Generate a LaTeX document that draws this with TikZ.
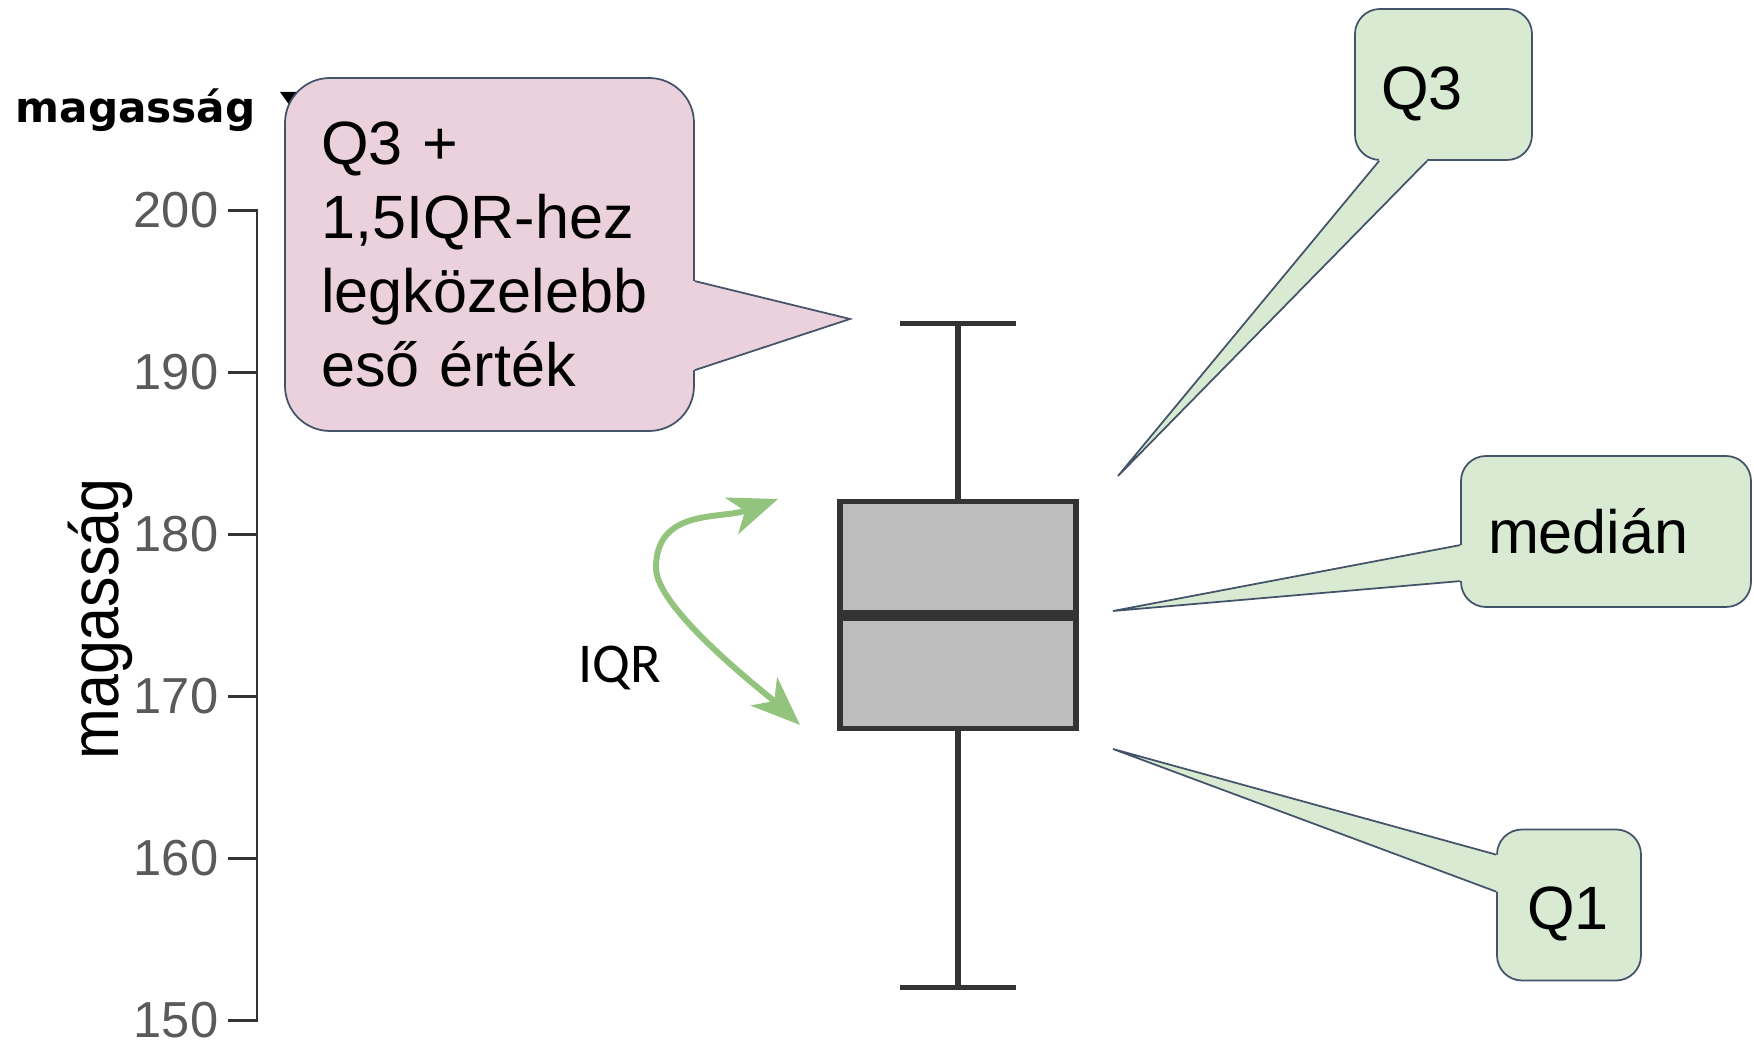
\documentclass[tikz,border=0pt]{standalone}
\usepackage{fontspec}
\setmainfont{Liberation Sans}
\newfontfamily\headfont{DejaVu Sans}
\newfontfamily\narrowfont[FakeStretch=0.89]{Liberation Sans}
\newfontfamily\calibrifont{Carlito}
\usetikzlibrary{
	arrows.meta,
	calc,
	positioning
}
\definecolor{BubblePink}{HTML}{EAD1DC}
\definecolor{BubbleGreen}{HTML}{D9EAD3}
\definecolor{BubbleEdge}{RGB}{67,83,105}
\definecolor{BoxGray}{HTML}{BDBDBD}
\definecolor{PlotLine}{HTML}{333333}
\definecolor{TickGray}{HTML}{5A5A5A}
\definecolor{ArrowGreen}{HTML}{93C47D}

\begin{document}
\begin{tikzpicture}[
	bubble/.style={draw=BubbleEdge, line width=0.5pt, align=left, inner ysep=0pt,
		font=\fontsize{17.4}{21}\selectfont},
	greenbubble/.style={bubble, fill=BubbleGreen, rounded corners=0.25cm, minimum height=1.51cm},
	tailline/.style={draw=BubbleEdge, line width=0.5pt, line join=miter},
	axisline/.style={PlotLine, line width=0.8pt},
	ticklabel/.style={TickGray, inner sep=0pt, font=\fontsize{14.4}{16}\selectfont},
	plotline/.style={PlotLine, line width=1.5pt},
	iqrarrow/.style={ArrowGreen, line width=1.7pt,
		{Stealth[length=14pt,width=11pt,inset=4pt]}-{Stealth[length=14pt,width=11pt,inset=4pt]}}
	]
	\useasboundingbox (0,0) rectangle (17.54,10.42);
	
	% header of the column
	\node[anchor=base west, inner sep=0pt, font=\headfont\bfseries\fontsize{12}{14}\selectfont] (head) at (0.15,9.19) {magasság};
	\fill (2.80,9.50) -- (3.06,9.50) -- (2.93,9.32) -- cycle;
	
	% axis and box plot, y in data units
	\begin{scope}[y=0.162cm, yshift=-24.083cm]
		\draw[axisline] (2.28,200) -- (2.57,200) -- (2.57,150) -- (2.28,150);
		\foreach \v in {160,170,...,190}
			\draw[axisline] (2.28,\v) -- (2.57,\v);
		\foreach \v in {150,160,...,200}
			\node[ticklabel, anchor=east] (tick\v) at (2.19,\v) {\v};
		
		\draw[plotline] (9.58,182) -- (9.58,193);
		\draw[plotline] (9.00,193) -- (10.16,193);
		\draw[plotline] (9.58,168) -- (9.58,152);
		\draw[plotline] (9.00,152) -- (10.16,152);
		\draw[plotline, fill=BoxGray] (8.40,168) rectangle (10.76,182);
		\draw[PlotLine, line width=3.2pt] (8.40,175) -- (10.76,175);
	\end{scope}
	
	\node[rotate=90, inner sep=0pt, font=\narrowfont\fontsize{19.5}{22}\selectfont] (ylabel) at (1.00,4.23) {magasság};
	
	% IQR
	\coordinate (iqrtop) at (7.78,5.43);
	\coordinate (iqrleft) at (6.56,4.74);
	\coordinate (iqrbot) at (8.00,3.17);
	\draw[iqrarrow] (iqrtop) to[out=200, in=90, looseness=1.1] (iqrleft) to[out=-90, in=137, looseness=0.5] (iqrbot);
	\node[anchor=west, inner sep=0pt, font=\calibrifont\fontsize{16}{18}\selectfont] (iqr) at (5.78,3.74) {IQR};
	
	% pink bubble
	\node[bubble, fill=BubblePink, rounded corners=0.45cm, minimum width=4.09cm, minimum height=3.53cm,
		text width=3.37cm, inner xsep=0.36cm] (fencebox) at (4.895,7.875) {Q3 +\\1,5IQR-hez\\legközelebb\\eső érték};
	\coordinate (fencetip) at (8.50,7.23);
	\coordinate (fenceA) at ($(fencebox.north east)+(0,-2.04)$);
	\coordinate (fenceB) at ($(fencebox.north east)+(0,-2.93)$);
	\fill[BubblePink] (fenceA) -- (fencetip) -- (fenceB) -- ([xshift=-0.04cm]fenceB) -- ([xshift=-0.04cm]fenceA) -- cycle;
	\draw[tailline] (fenceA) -- (fencetip) -- (fenceB);
	
	% green bubbles
	\node[greenbubble, minimum width=1.77cm, text width=1.25cm, inner xsep=0.26cm,
		text height=0.5cm, text depth=0cm] (q3box) at (14.435,9.575) {Q3};
	\coordinate (q3tip) at (11.18,5.66);
	\coordinate (q3A) at ($(q3box.south west)+(0.25,0)$);
	\coordinate (q3B) at ($(q3box.south west)+(0.73,0)$);
	\fill[BubbleGreen] (q3A) -- (q3tip) -- (q3B) -- ([yshift=0.04cm]q3B) -- ([yshift=0.04cm]q3A) -- cycle;
	\draw[tailline] (q3A) -- (q3tip) -- (q3B);
	
	\node[greenbubble, minimum width=2.90cm, text width=2.36cm, inner xsep=0.27cm] (medbox) at (16.06,5.105) {medián};
	\coordinate (medtip) at (11.13,4.31);
	\coordinate (medA) at ($(medbox.north west)+(0,-0.90)$);
	\coordinate (medB) at ($(medbox.north west)+(0,-1.26)$);
	\fill[BubbleGreen] (medA) -- (medtip) -- (medB) -- ([xshift=0.04cm]medB) -- ([xshift=0.04cm]medA) -- cycle;
	\draw[tailline] (medA) -- (medtip) -- (medB);
	
	\node[greenbubble, minimum width=1.44cm, text width=0.84cm, inner xsep=0.30cm,
		text height=0.5cm, text depth=0cm] (q1box) at (15.69,1.37) {Q1};
	\coordinate (q1tip) at (11.13,2.93);
	\coordinate (q1A) at ($(q1box.north west)+(0,-0.26)$);
	\coordinate (q1B) at ($(q1box.north west)+(0,-0.63)$);
	\fill[BubbleGreen] (q1A) -- (q1tip) -- (q1B) -- ([xshift=0.04cm]q1B) -- ([xshift=0.04cm]q1A) -- cycle;
	\draw[tailline] (q1A) -- (q1tip) -- (q1B);
\end{tikzpicture}
\end{document}
